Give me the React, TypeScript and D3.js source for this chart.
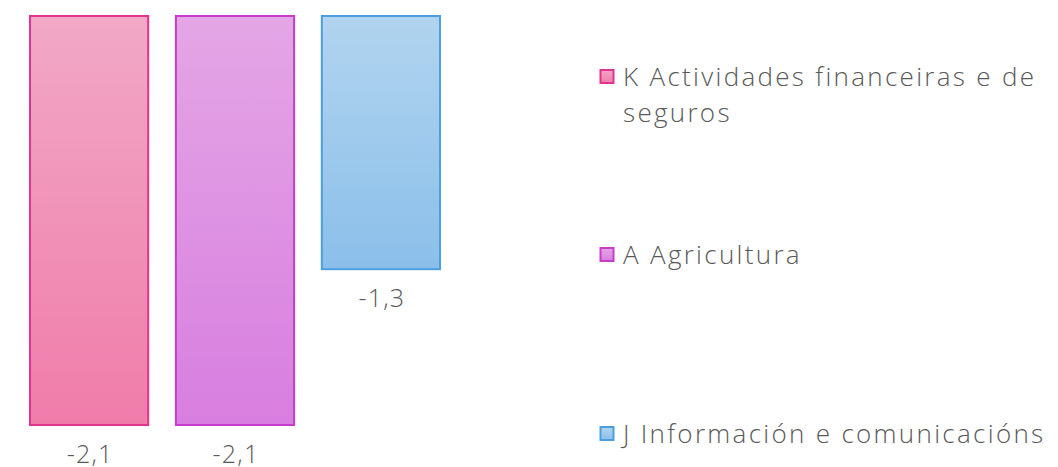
import React, { useEffect, useRef } from 'react';
import * as d3 from 'd3';

const W = 1058;
const H = 467;

const categories = ['K Actividades financeiras e de seguros', 'A Agricultura', 'J Información e comunicacións'];
const values = [-2.1, -2.1, -1.3];
const strokes = ['#e2348f', '#c73ccb', '#4b9fdf'];
const topFills = ['#f2a8c7', '#e4a6e5', '#b1d4ef'];
const bottomFills = ['#f07caa', '#d87ee0', '#8bbfea'];
const legendY = [77, 255, 434];

const fmt = (v: number) => d3.format('.1f')(v).replace('.', ',').replace('−', '-');

const App = () => {
  const ref = useRef<SVGSVGElement>(null);

  useEffect(() => {
    if (!ref.current) return;
    const svg = d3.select(ref.current);
    svg.selectAll('*').remove();

    const x = d3.scaleBand<string>()
      .domain(categories)
      .range([30, 440])
      .paddingInner(0.19)
      .paddingOuter(0);

    const y = d3.scaleLinear()
      .domain([-2.1, 0])
      .range([425, 16]);

    const defs = svg.append('defs');
    categories.forEach((c, i) => {
      const g = defs.append('linearGradient')
        .attr('id', `grad${i}`)
        .attr('x1', 0).attr('y1', 0).attr('x2', 0).attr('y2', 1);
      g.append('stop').attr('offset', '0%').attr('stop-color', topFills[i]);
      g.append('stop').attr('offset', '100%').attr('stop-color', bottomFills[i]);
    });

    // bars
    svg.selectAll('.bar')
      .data(values)
      .enter()
      .append('rect')
      .attr('class', 'bar')
      .attr('x', (d, i) => x(categories[i])!)
      .attr('y', y(0))
      .attr('width', x.bandwidth())
      .attr('height', d => y(d) - y(0))
      .attr('fill', (d, i) => `url(#grad${i})`)
      .attr('stroke', (d, i) => strokes[i])
      .attr('stroke-width', 2);

    // value labels
    svg.selectAll('.val')
      .data(values)
      .enter()
      .append('text')
      .attr('class', 'val')
      .attr('x', (d, i) => x(categories[i])! + x.bandwidth() / 2 + 1)
      .attr('y', d => y(d) + 38)
      .attr('text-anchor', 'middle')
      .attr('font-family', 'Open Sans, sans-serif')
      .attr('font-weight', 300)
      .attr('font-size', 25)
      .attr('letter-spacing', 1.2)
      .attr('fill', '#595959')
      .text(d => fmt(d));

    // legend
    const leg = svg.append('g');
    categories.forEach((c, i) => {
      leg.append('rect')
        .attr('x', 600.5)
        .attr('y', legendY[i] - 7)
        .attr('width', 13)
        .attr('height', 13)
        .attr('fill', `url(#grad${i})`)
        .attr('stroke', strokes[i])
        .attr('stroke-width', 2);

      const t = leg.append('text')
        .attr('x', 623)
        .attr('y', legendY[i] + 9)
        .attr('font-family', 'Open Sans, sans-serif')
        .attr('font-weight', 300)
        .attr('font-size', 26)
        .attr('letter-spacing', 2.3)
        .attr('fill', '#595959');

      // wrap long labels
      const words = c.split(' ');
      let line: string[] = [];
      let tspan = t.append('tspan').attr('x', 623).attr('dy', 0);
      words.forEach(w => {
        line.push(w);
        tspan.text(line.join(' '));
        if ((tspan.node() as SVGTSpanElement).getComputedTextLength() > 432 && line.length > 1) {
          line.pop();
          tspan.text(line.join(' '));
          line = [w];
          tspan = t.append('tspan').attr('x', 623).attr('dy', 36).text(w);
        }
      });
    });
  }, []);

  return (
    <svg
      width={W}
      height={H}
      ref={ref}
      style={{ position: 'absolute', left: 0, top: 0 }}
    ></svg>
  );
};

export default App;
